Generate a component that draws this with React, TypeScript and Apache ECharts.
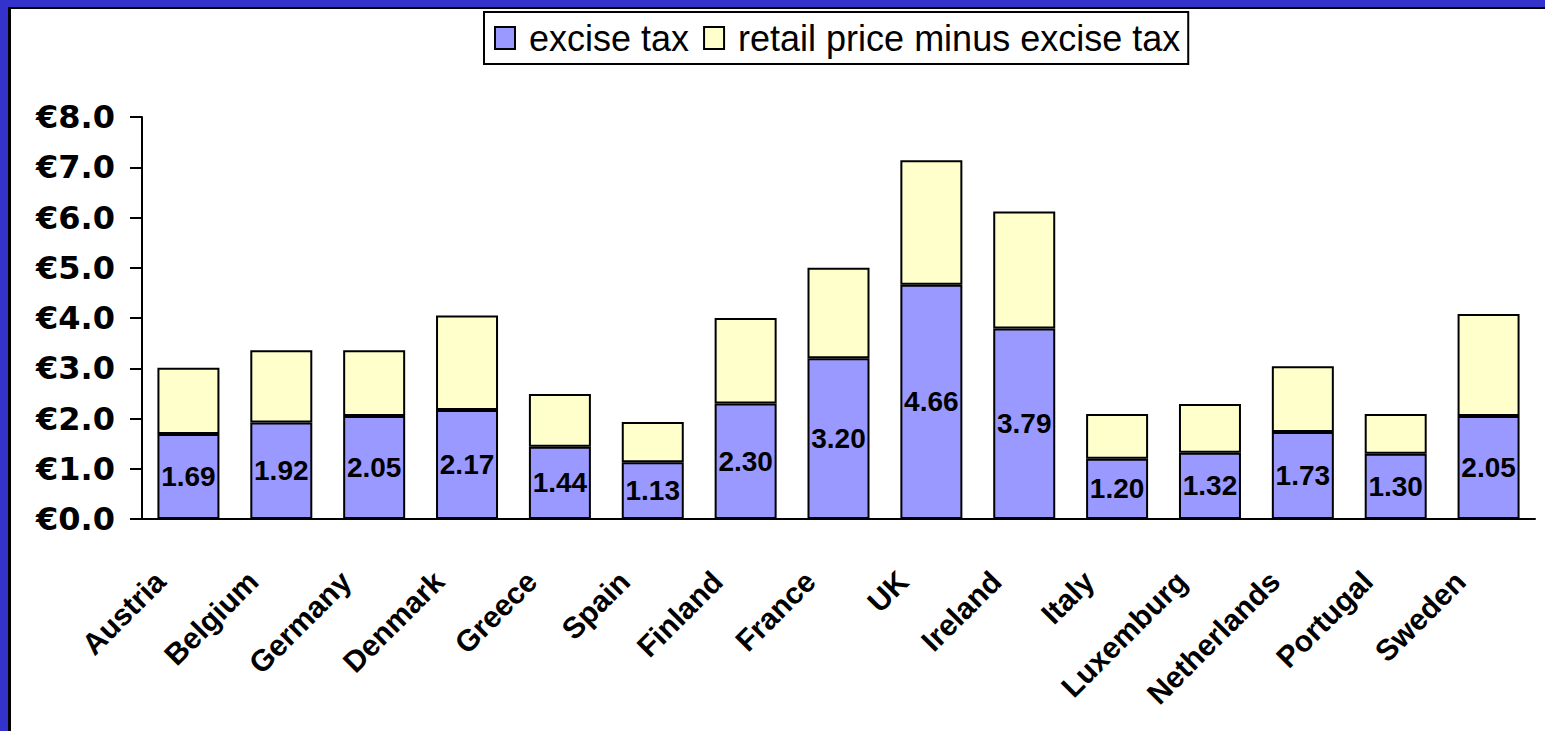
import React, { useEffect, useRef } from "react";
import * as echarts from "echarts";

const categories = ["Austria", "Belgium", "Germany", "Denmark", "Greece", "Spain", "Finland", "France", "UK", "Ireland", "Italy", "Luxemburg", "Netherlands", "Portugal", "Sweden"];
const exciseTax = [1.69, 1.92, 2.05, 2.17, 1.44, 1.13, 2.30, 3.20, 4.66, 3.79, 1.20, 1.32, 1.73, 1.30, 2.05];
const retailMinusExcise = [1.32, 1.44, 1.31, 1.88, 1.05, 0.80, 1.70, 1.80, 2.48, 2.33, 0.89, 0.97, 1.31, 0.79, 2.03];
const seriesNames = ["excise tax", "retail price minus excise tax"];

export default function App() {
  const ref = useRef<HTMLDivElement>(null);
  useEffect(() => {
    if (!ref.current) return;
    const chart = echarts.init(ref.current, null, { renderer: "svg" });
    chart.setOption({
      animation: false,
      backgroundColor: "#ffffff",
      graphic: [
        { type: "rect", shape: { x: 0, y: 0, width: 1545, height: 7 }, style: { fill: "#3333CC" }, z: 100 },
        { type: "rect", shape: { x: 0, y: 0, width: 8, height: 731 }, style: { fill: "#3333CC" }, z: 100 },
        { type: "rect", shape: { x: 8, y: 7, width: 1537, height: 2 }, style: { fill: "#000000" }, z: 100 },
        { type: "rect", shape: { x: 8, y: 7, width: 3, height: 724 }, style: { fill: "#000000" }, z: 100 },
      ],
      legend: {
        left: 484,
        top: 12,
        itemWidth: 20,
        itemHeight: 22,
        itemGap: 14,
        padding: [8, 8, 8, 10],
        borderColor: "#000000",
        borderWidth: 2,
        icon: "rect",
        textStyle: { fontFamily: "'Liberation Sans', Arial, sans-serif", fontSize: 36, color: "#000000", padding: [0, 0, 0, 9] },
        data: seriesNames,
      },
      grid: { left: 142, right: 10, top: 117, bottom: 212, containLabel: false },
      xAxis: {
        type: "category",
        data: categories,
        axisLine: { lineStyle: { color: "#000000", width: 2 } },
        axisTick: { length: 10, lineStyle: { color: "#000000", width: 2 } },
        axisLabel: {
          rotate: 45,
          interval: 0,
          margin: 29,
          padding: [0, 40, 0, 0],
          fontFamily: "'Liberation Sans', Arial, sans-serif",
          fontWeight: "bold",
          fontSize: 30,
          color: "#000000",
        },
      },
      yAxis: {
        type: "value",
        min: 0,
        max: 8,
        interval: 1,
        splitLine: { show: false },
        axisLine: { show: true, lineStyle: { color: "#000000", width: 2 } },
        axisTick: { show: true, length: 12, lineStyle: { color: "#000000", width: 2 } },
        axisLabel: {
          margin: 27,
          formatter: (v: number) => "€" + v.toFixed(1),
          fontFamily: "'DejaVu Sans', sans-serif",
          fontWeight: "bold",
          fontSize: 32,
          color: "#000000",
        },
      },
      series: [
        {
          name: seriesNames[0],
          type: "bar",
          stack: "total",
          barWidth: 62,
          data: exciseTax,
          itemStyle: { color: "#9999FF", borderColor: "#000000", borderWidth: 2 },
          label: {
            show: true,
            position: "inside",
            formatter: (p: any) => Number(p.value).toFixed(2),
            fontFamily: "'Liberation Sans', Arial, sans-serif",
            fontWeight: "bold",
            fontSize: 28,
            color: "#000000",
          },
        },
        {
          name: seriesNames[1],
          type: "bar",
          stack: "total",
          barWidth: 62,
          data: retailMinusExcise,
          itemStyle: { color: "#FFFFCC", borderColor: "#000000", borderWidth: 2 },
        },
      ],
    });
    return () => chart.dispose();
  }, []);
  return <div ref={ref} style={{ position: "absolute", left: 0, top: 0, width: 1545, height: 731 }} />;
}
